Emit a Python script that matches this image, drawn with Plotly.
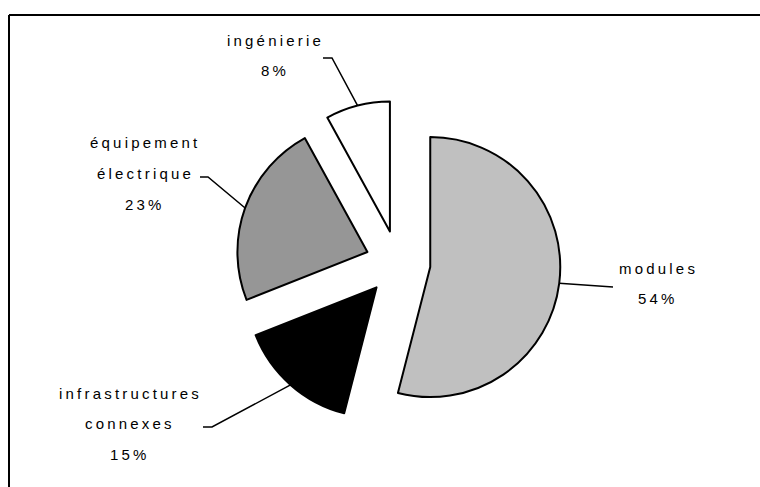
import math
import plotly.graph_objects as go

labels = ["modules", "infrastructures connexes", "équipement électrique", "ingénierie"]
values = [54, 15, 23, 8]
colors = ["#c0c0c0", "#000000", "#969696", "#ffffff"]

W, H = 760, 487
CX, CY = 398, 263   # pie centre, pixels
R = 130             # slice radius, pixels
PULL = 0.25
LINE_GAP = 30.5
FONT = dict(family="Liberation Sans, Arial, sans-serif", size=15, color="#000000")

# where each label sits: text centre x, first line centre y, leader end x/y, stub length
label_pos = {
    "modules": (658, 268, 613, 287, 0),
    "infrastructures connexes": (130, 393, 203, 427, 9),
    "équipement électrique": (145, 143, 200, 177, 8),
    "ingénierie": (275, 40, 323, 58, 9),
}


def px(x):
    return x / W


def py(y):
    return 1 - y / H


def spaced(s):
    return f'<span style="letter-spacing:3.2px">{s}</span>'


half = R * (1 + PULL)
fig = go.Figure(go.Pie(
    labels=labels,
    values=values,
    sort=False,
    direction="clockwise",
    rotation=0,
    pull=[PULL] * len(values),
    marker=dict(colors=colors, line=dict(color="#000000", width=2)),
    textinfo="none",
    hoverinfo="label+percent",
    showlegend=False,
    domain=dict(x=[px(CX - half), px(CX + half)], y=[py(CY + half), py(CY - half)]),
))

annotations = []
shapes = []
total = sum(values)
cum = 0
for lab, v in zip(labels, values):
    theta = math.radians(360 * (cum + v / 2) / total)
    cum += v
    # point on the middle of the pulled slice's arc
    ax = CX + R * (1 + PULL) * math.sin(theta)
    ay = CY - R * (1 + PULL) * math.cos(theta)
    tx, ty, ex, ey, stub = label_pos[lab]
    lines = lab.split(" ") + [f"{round(v / total * 100)}%"]
    for i, line in enumerate(lines):
        annotations.append(dict(
            x=px(tx), y=py(ty + i * LINE_GAP), xref="paper", yref="paper",
            text=spaced(line), showarrow=False, font=FONT,
            xanchor="center", yanchor="middle",
        ))
    path = f"M {px(ex)} {py(ey)} L {px(ex + stub)} {py(ey)} L {px(ax)} {py(ay)}"
    shapes.append(dict(type="path", xref="paper", yref="paper", path=path,
                       line=dict(color="#000000", width=1.5)))

# frame: only its top and left edges fall inside the picture
frame = dict(type="line", xref="paper", yref="paper", line=dict(color="#000000", width=2))
shapes.append(dict(frame, x0=px(9), y0=py(15), x1=1, y1=py(15)))
shapes.append(dict(frame, x0=px(9), y0=py(15), x1=px(9), y1=0))

fig.update_layout(
    width=W, height=H,
    margin=dict(l=0, r=0, t=0, b=0),
    paper_bgcolor="#ffffff",
    plot_bgcolor="#ffffff",
    annotations=annotations,
    shapes=shapes,
)

# drop the browser's default body margin and scrollbars so the figure fills the window
fig.write_html(
    "out.html",
    config={"displayModeBar": False},
    post_script=(
        "document.body.style.margin = '0';"
        "document.body.style.overflow = 'hidden';"
        "document.documentElement.style.overflow = 'hidden';"
    ),
)
